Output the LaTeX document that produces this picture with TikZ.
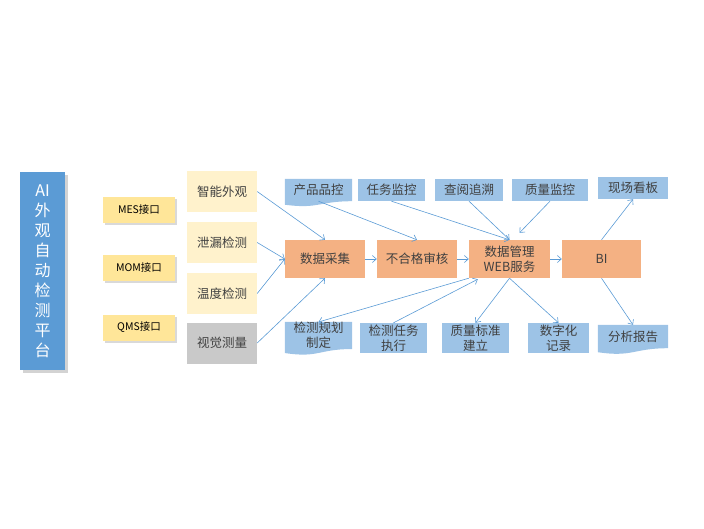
\documentclass[tikz,border=0pt]{standalone}
\usepackage{fontspec}
\setmainfont{Noto Sans CJK SC}
\usepackage{xcolor}
\usepackage{tikz}
\usetikzlibrary{arrows.meta,calc,shadows,backgrounds}
\definecolor{platB}{HTML}{5B9BD5}
\definecolor{ifaceY}{HTML}{FFE699}
\definecolor{funcY}{HTML}{FFF2CC}
\definecolor{funcG}{HTML}{C9C9C9}
\definecolor{coreO}{HTML}{F4B183}
\definecolor{subB}{HTML}{9DC3E6}
\definecolor{linkB}{HTML}{5B9BD5}
\definecolor{txtG}{HTML}{404040}

% box with a wavy lower edge (node, extra depth)
\newcommand{\wavebottom}[2]{%
  \fill[subB] (#1.north west) -- (#1.north east) -- (#1.south east)
    .. controls (#1.south) and ($(#1.south)+(0,#2*2.3)$) ..
    ($(#1.south west)+(0,#2)$) -- cycle;}

\begin{document}
\begin{tikzpicture}[
  x=1pt,y=-1pt,
  font=\fontsize{12.5}{15}\selectfont,
  every node/.style={align=center,inner sep=0pt,text=txtG},
  plat/.style={fill=platB,text=white,minimum width=45pt,minimum height=198pt,
    font=\fontsize{16}{20}\selectfont,
    drop shadow={shadow xshift=2.5pt,shadow yshift=-2.5pt,opacity=0.35}},
  iface/.style={fill=ifaceY,text=black,minimum width=72pt,minimum height=26pt,
    font=\fontsize{10.5}{12}\selectfont,
    drop shadow={shadow xshift=2pt,shadow yshift=-2pt,opacity=0.3}},
  func/.style={fill=funcY,minimum width=70pt,minimum height=41pt},
  core/.style={fill=coreO,minimum width=80pt,minimum height=38pt},
  sub/.style={fill=subB,minimum width=67pt,minimum height=22pt},
  docbox/.style={minimum width=67pt,minimum height=22pt},
  link/.style={draw=linkB,line width=0.6pt,-{Straight Barb[length=4pt,width=7pt]}}
]
\useasboundingbox (0,0) rectangle (704,528);

% Platform
\node[plat] (plat) at (42.5,271) {AI\\外\\观\\自\\动\\检\\测\\平\\台};

% Interfaces
\node[iface] (mes) at (139,209.5) {MES接口};
\node[iface] (mom) at (139,267.5) {MOM接口};
\node[iface] (qms) at (139,327.5) {QMS接口};

% Functions
\node[func] (zhineng) at (222,191.5) {智能外观};
\node[func] (xielou) at (222,242.5) {泄漏检测};
\node[func] (wendu) at (222,293.5) {温度检测};
\node[func,fill=funcG] (shijue) at (222,343) {视觉测量};

% Core chain
\node[core] (caiji) at (325,259) {数据采集};
\node[core] (shenhe) at (417,259) {不合格审核};
\node[core,minimum width=81pt] (guanli) at (509.5,259) {数据管理\\WEB服务};
\node[core,minimum width=79pt] (bi) at (601.5,259) {BI};

% Upper row
\node[docbox] (pinkong) at (318.5,190) {产品品控};
\node[sub] (renwu) at (391.5,190) {任务监控};
\node[sub,minimum width=68pt] (chayue) at (469,190) {查阅追溯};
\node[sub,minimum width=76pt] (zhiliang) at (550,190) {质量监控};
\node[sub,minimum width=70pt] (kanban) at (633,188) {现场看板};

% Lower row
\node[docbox,minimum height=25pt] (guihua) at (318.5,335.5) {检测规划\\制定};
\node[sub,minimum height=30pt] (zhixing) at (393.5,338) {检测任务\\执行};
\node[sub,minimum height=30pt] (biaozhun) at (475.5,338) {质量标准\\建立};
\node[sub,minimum width=61pt,minimum height=30pt] (jilu) at (558.5,338) {数字化\\记录};
\node[docbox,minimum width=70pt,minimum height=23pt] (baogao) at (633,336.5) {分析报告};

\begin{scope}[on background layer]
\wavebottom{pinkong}{3.5}
\wavebottom{guihua}{4}
\wavebottom{baogao}{4}
\end{scope}

% Links
\draw[link] (zhineng.east) -- (caiji.north);
\draw[link] (xielou.east) -- (caiji.west);
\draw[link] (wendu.east) -- (caiji.west);
\draw[link] (shijue.east) -- (caiji.south);
\draw[link] (caiji.east) -- (shenhe.west);
\draw[link] (shenhe.east) -- (guanli.west);
\draw[link] (guanli.east) -- (bi.west);
\draw[link] (pinkong.south) -- (shenhe.north);
\draw[link] (renwu.south) -- (guanli.north);
\draw[link] (chayue.south) -- (guanli.north);
\draw[link] (zhiliang.south) -- ($(guanli.north)+(10,-7)$);
\draw[link] (bi.north) -- (kanban.south);
\draw[link] (bi.south) -- (baogao.north);
\draw[link] (guanli.south) -- (biaozhun.north);
\draw[link] (guanli.south) -- (jilu.north);
\draw[link] (guanli.south west) -- (guihua.north);
\draw[link] (zhixing.north) -- ($(guanli.south west)+(9,1)$);
\end{tikzpicture}
\end{document}
